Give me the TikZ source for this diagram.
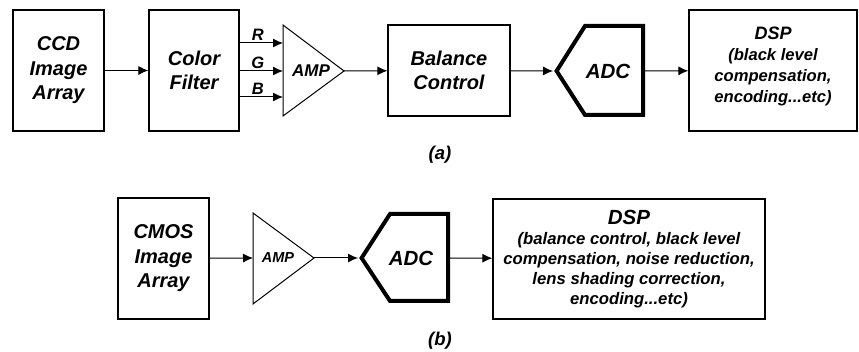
\documentclass[tikz,border=0pt]{standalone}
\usepackage{fontspec}
\setmainfont{Liberation Sans}
\usetikzlibrary{arrows.meta,positioning}

\begin{document}
\begin{tikzpicture}
	[x=1pt,y=-1pt,
	block/.style={shape=rectangle,draw,line width=1.3pt,align=center,inner sep=0pt,font=\fontsize{20}{24.5}\selectfont\bfseries\itshape},
	word/.style={align=center,inner sep=0pt,font=\fontsize{20}{24.5}\selectfont\bfseries\itshape},
	amp/.style={draw,line width=1pt,line join=miter},
	conv/.style={draw,line width=4pt,line join=miter},
	link/.style={draw,line width=1pt,-{Latex[length=10pt,width=9pt]}},
	rgb/.style={above,inner sep=1.5pt,font=\fontsize{16.5}{18}\selectfont\bfseries\itshape},
	caption/.style={font=\fontsize{18.5}{20}\selectfont\bfseries\itshape}]
	\useasboundingbox (0,0) rectangle (859,352);
	
	% (a) CCD
	\node [block,minimum width=91pt,minimum height=121pt] (a1) at (58.5,70.5) {CCD\\Image\\Array};
	\node [block,minimum width=90pt,minimum height=121pt] (a2) at (194,70.5) {Color\\Filter};
	\node [word,font=\fontsize{17}{20}\selectfont\bfseries\itshape] (a3) at (311,71) {AMP};
	\coordinate (a3w) at (283,71);
	\coordinate (a3e) at (344,71);
	\draw [amp] (283,25) -- (a3e) -- (283,116) -- cycle;
	\node [block,minimum width=122pt,minimum height=91pt] (a4) at (449,70.5) {Balance\\Control};
	\node [word,font=\fontsize{20.5}{24}\selectfont\bfseries\itshape] (a5) at (608,71) {ADC};
	\coordinate (a5w) at (553,71);
	\coordinate (a5e) at (645,71);
	\draw [conv] (556.6,71) -- (585,26) -- (643,26) -- (643,115) -- (585,115) -- cycle;
	\node [block,minimum width=168pt,minimum height=121pt] (a6) at (773,70.5) {};
	\node [word,font=\fontsize{16.6}{21}\selectfont\bfseries\itshape] (a6t) at (773,66)
		{{\fontsize{18}{21}\selectfont DSP}\\(black level\\compensation,\\encoding...etc)};
	\node [caption] (a) at (440,155) {(a)};
	
	\path
	(a1) edge [link] (a2)
	(a3e) edge [link] (a4)
	(a4) edge [link] (a5w)
	(a5e) edge [link] (a6);
	\foreach \y/\c in {43/R,71/G,97/B}
		\draw [link] (a2.east |- 0,\y) -- node [rgb,pos=.42] {\c} (a3w |- 0,\y);
	
	% (b) CMOS
	\node [block,minimum width=91pt,minimum height=121pt] (b1) at (163.5,258.5) {CMOS\\Image\\Array};
	\node [word,font=\fontsize{14.5}{17}\selectfont\bfseries\itshape] (b2) at (278,258) {AMP};
	\coordinate (b2w) at (253,258);
	\coordinate (b2e) at (314,258);
	\draw [amp] (253,213) -- (b2e) -- (253,304) -- cycle;
	\node [word,font=\fontsize{20.5}{24}\selectfont\bfseries\itshape] (b3) at (411,258) {ADC};
	\coordinate (b3w) at (358,258);
	\coordinate (b3e) at (450,258);
	\draw [conv] (361.6,258) -- (390,214) -- (448,214) -- (448,301) -- (390,301) -- cycle;
	\node [block,minimum width=272pt,minimum height=120pt,font=\fontsize{16.7}{20}\selectfont\bfseries\itshape] (b4) at (629,259)
		{{\fontsize{20.5}{20}\selectfont DSP}\\(balance control, black level\\compensation, noise reduction,\\lens shading correction,\\encoding...etc)};
	\node [caption] (b) at (440,341) {(b)};
	
	\path
	(b1) edge [link] (b2w)
	(b2e) edge [link] (b3w)
	(b3e) edge [link] (b4);
	
\end{tikzpicture}
\end{document}
